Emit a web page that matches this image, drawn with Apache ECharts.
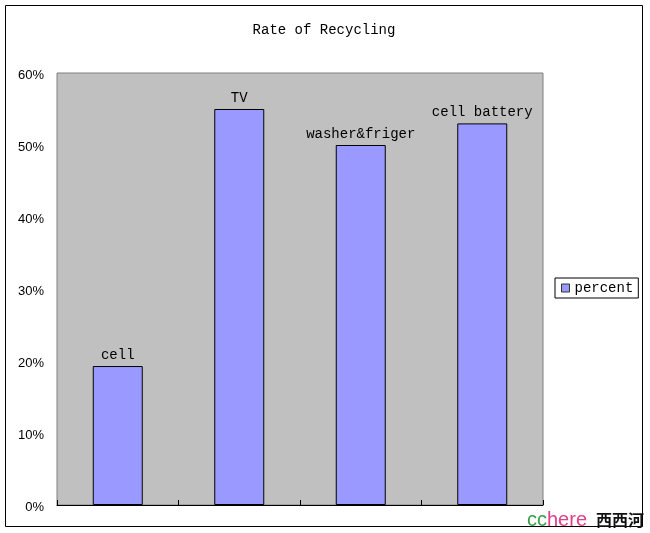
<!DOCTYPE html>
<html><head><meta charset="utf-8">
<script src="https://cdn.jsdelivr.net/npm/echarts@6/dist/echarts.min.js"></script>
<style>html,body{margin:0;padding:0;background:#fff}#c{width:650px;height:533px}</style>
</head><body><div id="c"></div>
<script>
var categories = ['cell', 'TV', 'washer&friger', 'cell battery'];
var percentValues = [19.3, 55, 50, 53];
var yTicks = [0, 10, 20, 30, 40, 50, 60];
var seriesName = 'percent';
var titleText = 'Rate of Recycling';

var chart = echarts.init(document.getElementById('c'), null, {renderer: 'canvas'});
var mono = '"Liberation Mono", "DejaVu Sans Mono", monospace';
chart.setOption({
  backgroundColor: '#ffffff',
  animation: false,
  title: {
    text: titleText, left: 319, top: 18, textAlign: 'center',
    textStyle: {fontFamily: mono, fontSize: 14, fontWeight: 'normal', color: '#000'}
  },
  legend: {
    data: [seriesName], left: 555, top: 278, orient: 'vertical',
    itemWidth: 8, itemHeight: 8, itemGap: 0, padding: [3, 5, 3, 6],
    borderColor: '#000', borderWidth: 1,
    icon: 'rect',
    itemStyle: {borderColor: '#333', borderWidth: 1},
    textStyle: {fontFamily: mono, fontSize: 14, color: '#000'}
  },
  grid: {
    left: 57, top: 73, width: 486, height: 432,
    show: true, backgroundColor: '#C0C0C0', borderColor: '#808080', borderWidth: 1
  },
  xAxis: {
    type: 'category', data: categories,
    axisLine: {show: true, lineStyle: {color: '#000', width: 1}},
    axisTick: {show: true, inside: true, length: 5, lineStyle: {color: '#000'}},
    axisLabel: {show: false},
    splitLine: {show: false}
  },
  yAxis: {
    type: 'value', min: yTicks[0], max: yTicks[yTicks.length - 1], interval: 10,
    axisLine: {show: false}, axisTick: {show: false}, splitLine: {show: false},
    axisLabel: {
      formatter: function (v) { return '{v|' + v + '%}'; }, margin: 13,
      rich: {v: {padding: [5, 0, 0, 0], fontFamily: '"Liberation Sans", Arial, sans-serif', fontSize: 13, color: '#000'}},
      fontFamily: '"Liberation Sans", Arial, sans-serif', fontSize: 13, color: '#000'
    }
  },
  series: [{
    name: seriesName, type: 'bar', data: percentValues, barWidth: 50,
    itemStyle: {color: '#9999FF', borderColor: '#000', borderWidth: 1},
    label: {
      show: true, position: 'top', distance: 4, formatter: '{b}',
      fontFamily: mono, fontSize: 14, color: '#000'
    }
  }],
  graphic: [
    {type: 'rect', shape: {x: 5.5, y: 5.5, width: 637, height: 521}, style: {fill: 'none', stroke: '#000', lineWidth: 1}, silent: true},
    {type: 'text', left: 527, top: 510, style: {
      text: '{a|cc}{b|here}{c|西西河}',
      rich: {
        a: {fill: '#3ca04a', fontSize: 20, fontFamily: '"Liberation Sans", Arial, sans-serif'},
        b: {fill: '#e0408a', fontSize: 20, fontFamily: '"Liberation Sans", Arial, sans-serif'},
        c: {fill: '#111', fontSize: 16, fontFamily: '"Noto Sans CJK SC", sans-serif', fontWeight: 'bold', padding: [0, 0, 0, 9]}
      }
    }}
  ]
});
</script></body></html>
